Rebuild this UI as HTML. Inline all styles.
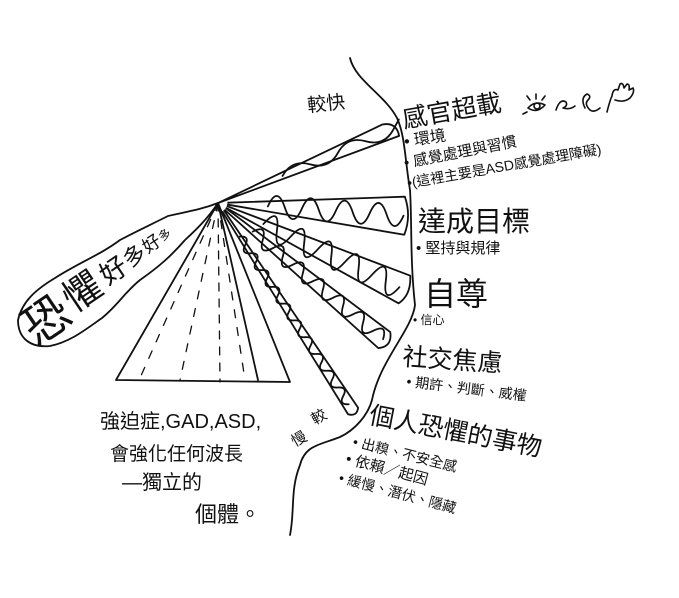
<!DOCTYPE html>
<html><head><meta charset="utf-8"><style>
html,body{margin:0;padding:0;background:#fff;}
svg{display:block}
text{font-family:"Liberation Sans","Noto Sans CJK TC","WenQuanYi Zen Hei",sans-serif;fill:#111;}
</style></head><body>
<svg width="679" height="598" viewBox="0 0 679 598" xmlns="http://www.w3.org/2000/svg">
<g fill="none" stroke="#111" stroke-width="1.8" stroke-linecap="round" stroke-linejoin="round">
<!-- right boundary -->
<path d="M350 58 C355 80 385 95 397 118 C405 135 405 160 410 190 C412 220 410 260 415 305 C412 330 380 360 372 400 C368 415 355 430 340 437 C320 445 305 445 300 465 C290 490 295 510 290 535"/>
<!-- banner -->
<path d="M218 203 C200 210 185 212 168 216 C150 225 135 232 120 240 C100 255 80 262 55 278 C35 290 22 302 18 320 C18 338 30 348 50 346 C70 342 85 330 102 318 C118 305 125 292 140 280 C160 266 172 255 185 240 C198 228 208 218 218 203"/>
<!-- pyramid -->
<path d="M218 203 L116 380 L290 382 Z"/>
<path d="M218 203 L258 380"/>
<path d="M218 203 L140 378" stroke-dasharray="8 10" stroke-width="1.3"/>
<path d="M218 203 L180 380" stroke-dasharray="8 10" stroke-width="1.3"/>
<path d="M218 203 L220 382" stroke-dasharray="8 8" stroke-width="1.3"/>
<path d="M218 203 L245 380" stroke-dasharray="8 10" stroke-width="1.3"/>
<!-- beam 1 -->
<g transform="translate(218 203) rotate(-22.7)">
<path d="M0 0 L182 -9 Q196 -6 193 8 L0 0"/>
<path d="M70 0 q15 -12 30 0 t30 0 t30 0 t30 0 t5 -4"/>
</g>
<!-- beam 2 -->
<g transform="translate(218 203) rotate(3.9)">
<path d="M10 -1 L186 -19 Q194 0 188 19 L10 1"/>
<path d="M50 0 q8 -22 17 0 t17 0 t17 0 t17 0 t17 0 t17 0 t17 0 t17 0"/>
</g>
<!-- beam 3 -->
<g transform="translate(218 203) rotate(24.9)">
<path d="M10 -1 L205 -15 Q214 2 206 15 L10 1"/>
<path d="M50 0 q7.5 -24 15 0 t15 0 t15 0 t15 0 t15 0 t15 0 t15 0 t15 0 t15 0 t15 0"/>
</g>
<!-- beam 4 -->
<g transform="translate(218 203) rotate(39.5)">
<path d="M10 -1 L215 -10 Q226 0 216 10 L10 1"/>
<path d="M45 0 q6.5 -15 13 0 t13 0 t13 0 t13 0 t13 0 t13 0 t13 0 t13 0 t13 0 t13 0 t13 0 t13 0 t13 0"/>
</g>
<!-- beam 5 -->
<g transform="translate(218 203) rotate(57)">
<path d="M10 -1 L248 -6 Q255 0 248 6 L10 1"/>
<path d="M40 0 q5 -9 10 0 t10 0 t10 0 t10 0 t10 0 t10 0 t10 0 t10 0 t10 0 t10 0 t10 0 t10 0 t10 0 t10 0 t10 0 t10 0 t10 0 t10 0 t10 0 t10 0"/>
</g>
<!-- icons -->
<g stroke-width="1.6">
<path d="M528 108 Q535 100 545 105 Q537 114 528 108"/><circle cx="537" cy="106" r="3"/>
<path d="M530 100 l-3 -4 M536 99 l0 -5 M542 100 l3 -4 M527 112 l-4 2"/>
<path d="M556 110 Q560 98 566 102 Q568 106 563 108 Q570 110 575 106"/>
<path d="M585 108 Q580 98 587 94 Q592 96 588 100 Q584 104 590 110 Q594 113 600 108"/>
<path d="M607 112 Q610 100 612 96 Q613 88 618 90 L620 84 Q623 82 624 88 L627 84 Q630 84 629 90 L633 88 Q635 92 630 98 Q624 103 615 100"/>
</g>
</g>
<!-- texts -->
<text x="308" y="112" font-size="19" transform="rotate(-6 308 112)">較快</text>
<g transform="translate(36 346) rotate(-34)">
<text x="0" y="0" font-size="46">恐</text>
<text x="50" y="-6" font-size="38">懼</text>
<text x="93" y="-10" font-size="27">好</text>
<text x="121" y="-12" font-size="22">多</text>
<text x="144" y="-14" font-size="18">好</text>
<text x="163" y="-16" font-size="12">多</text>
</g>
<text x="404" y="128" font-size="25" transform="rotate(-10 404 128)">感官超載</text>
<text x="405" y="147" font-size="16" transform="rotate(-9 405 147)">• 環境</text>
<text x="405" y="168" font-size="15" transform="rotate(-11 405 168)">• 感覺處理與習慣</text>
<text x="408" y="188" font-size="14" transform="rotate(-10 408 188)">•(這裡主要是ASD感覺處理障礙)</text>
<text x="418" y="231" font-size="28">達成目標</text>
<text x="416" y="253" font-size="15">• 堅持與規律</text>
<text x="424" y="305" font-size="32">自尊</text>
<text x="413" y="324" font-size="12">• 信心</text>
<text x="402" y="365" font-size="25" transform="rotate(4 402 365)">社交焦慮</text>
<text x="406" y="386" font-size="14" transform="rotate(7 406 386)">• 期許、判斷、威權</text>
<text x="368" y="423" font-size="25" transform="rotate(11 368 423)">個人恐懼的事物</text>
<text x="352" y="446" font-size="14" transform="rotate(14 352 446)">• 出糗、不安全感</text>
<text x="345" y="463" font-size="15" transform="rotate(15 345 463)">• 依賴／起因</text>
<text x="338" y="482" font-size="14" transform="rotate(15 338 482)">• 緩慢、潛伏、隱藏</text>
<text x="315" y="425" font-size="15" transform="rotate(-30 315 425)">較</text>
<text x="295" y="447" font-size="15" transform="rotate(-30 295 447)">慢</text>
<text x="100" y="428" font-size="20">強迫症,GAD,ASD,</text>
<text x="110" y="460" font-size="19">會強化任何波長</text>
<text x="122" y="489" font-size="20">—獨立的</text>
<text x="195" y="522" font-size="22">個體。</text>
</svg>
</body></html>
